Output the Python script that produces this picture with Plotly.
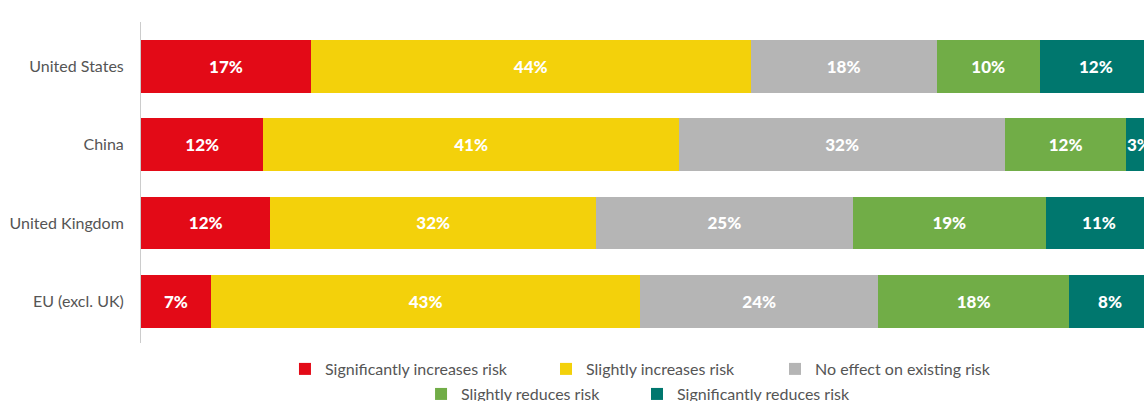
import plotly.graph_objects as go

countries = ["United States", "China", "United Kingdom", "EU (excl. UK)"]

series = ["Significantly increases risk", "Slightly increases risk",
          "No effect on existing risk", "Slightly reduces risk",
          "Significantly reduces risk"]
colors = ["#E30A17", "#F3D10B", "#B5B5B5", "#71AD47", "#00776E"]

# bar lengths (share of 100)
sig_inc = [16.8, 12.1, 12.8, 6.9]
sli_inc = [43.5, 41.1, 32.2, 42.5]
no_eff = [18.4, 32.3, 25.4, 23.5]
sli_red = [10.2, 11.9, 19.1, 18.9]
sig_red = [11.1, 2.6, 10.5, 8.1]

# printed labels
sig_inc_lbl = [17, 12, 12, 7]
sli_inc_lbl = [44, 41, 32, 43]
no_eff_lbl = [18, 32, 25, 24]
sli_red_lbl = [10, 12, 19, 18]
sig_red_lbl = [12, 3, 11, 8]

vals = [sig_inc, sli_inc, no_eff, sli_red, sig_red]
lbls = [sig_inc_lbl, sli_inc_lbl, no_eff_lbl, sli_red_lbl, sig_red_lbl]

# one legend per entry so the two centred rows sit like the original
leg_names = ["legend", "legend2", "legend3", "legend4", "legend5"]
leg_x = [0.1424, 0.4006, 0.6271, 0.2770, 0.4906]
leg_y = [-0.081, -0.081, -0.081, -0.159, -0.159]

fig = go.Figure()
for i, name in enumerate(series):
    fig.add_trace(go.Bar(
        y=countries, x=vals[i], name=name, orientation="h",
        marker=dict(color=colors[i], line=dict(width=0)),
        text=[f"{v}%" for v in lbls[i]],
        textposition="inside", insidetextanchor="middle",
        constraintext="none", textangle=0,
        textfont=dict(family="Lato", size=17, color="white", weight=900),
        legend=leg_names[i], showlegend=True,
        hoverinfo="skip",
    ))

legends = {}
for i, ln in enumerate(leg_names):
    legends[ln] = dict(orientation="h", x=leg_x[i], xanchor="left",
                       y=leg_y[i], yanchor="middle", itemwidth=30,
                       font=dict(family="Lato", size=16, color="#555555"),
                       bgcolor="rgba(0,0,0,0)", visible=True)

fig.update_layout(
    barmode="stack", bargap=0.327,
    width=1152, height=401,
    margin=dict(l=141, r=0, t=22, b=58, autoexpand=False),
    plot_bgcolor="white", paper_bgcolor="white",
    font=dict(family="Lato", color="#555555"),
    showlegend=True,
    xaxis=dict(range=[0, 100], showgrid=False, zeroline=False,
               showticklabels=False, fixedrange=True),
    yaxis=dict(autorange=False, range=[3.532, -0.565], showgrid=False,
               showline=True, linecolor="#cccccc", linewidth=1,
               ticks="", ticklabelstandoff=13, fixedrange=True,
               tickfont=dict(size=16, color="#555555")),
    **legends,
)

fig.write_html(
    "out.html",
    config={"displayModeBar": False},
    post_script="document.body.style.margin='0';document.body.style.overflow='hidden';",
)
